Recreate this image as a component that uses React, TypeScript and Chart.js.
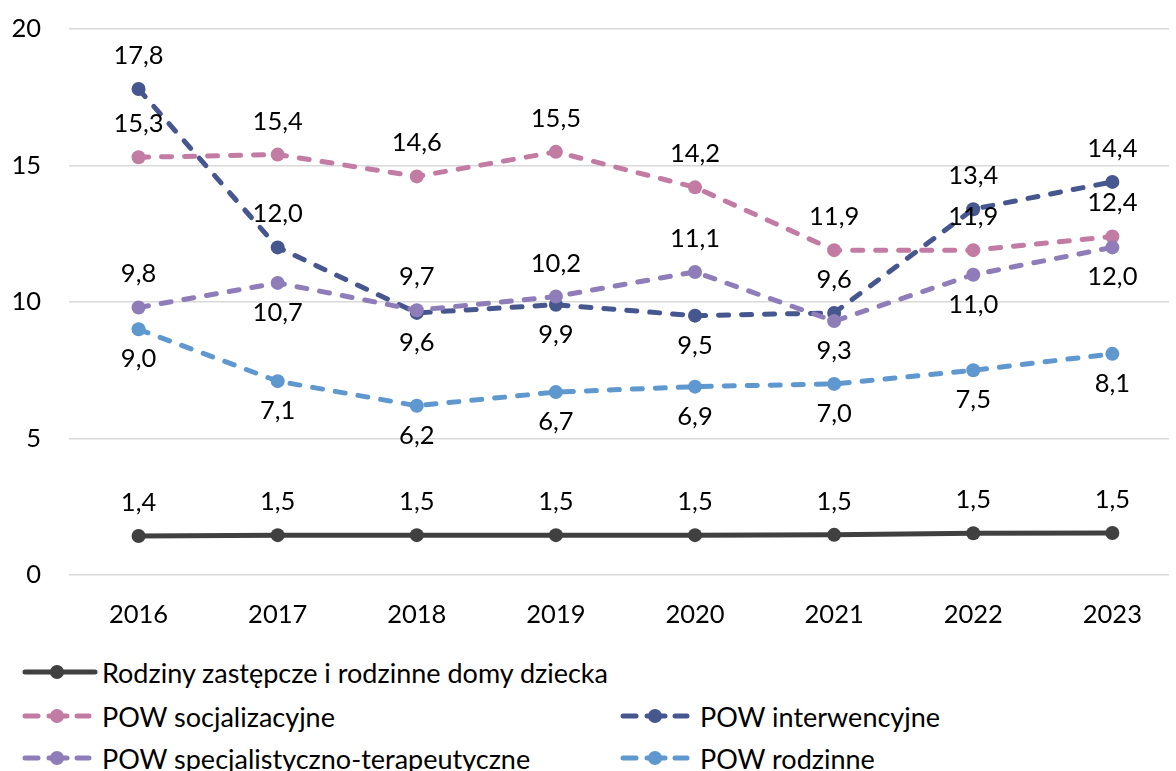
import React, { useEffect, useRef } from 'react';
import { Chart, registerables } from 'chart.js';

Chart.register(...registerables);

// ---- data ----
const years = ['2016', '2017', '2018', '2019', '2020', '2021', '2022', '2023'];
const seriesNames = [
  'Rodziny zastępcze i rodzinne domy dziecka',
  'POW socjalizacyjne',
  'POW interwencyjne',
  'POW specjalistyczno-terapeutyczne',
  'POW rodzinne',
];
const rodziny = [1.43, 1.46, 1.46, 1.46, 1.46, 1.47, 1.53, 1.54];
const socjalizacyjne = [15.3, 15.4, 14.6, 15.5, 14.2, 11.9, 11.9, 12.4];
const interwencyjne = [17.8, 12.0, 9.6, 9.9, 9.5, 9.6, 13.4, 14.4];
const specjalistyczne = [9.8, 10.7, 9.7, 10.2, 11.1, 9.3, 11.0, 12.0];
const rodzinne = [9.0, 7.1, 6.2, 6.7, 6.9, 7.0, 7.5, 8.1];
const yTicks = [0, 5, 10, 15, 20];

// label placement (a = above, b = below)
const posRodziny = ['a', 'a', 'a', 'a', 'a', 'a', 'a', 'a'];
const posSocjal = ['a', 'a', 'a', 'a', 'a', 'a', 'a', 'a'];
const posInterw = ['a', 'a', 'b', 'b', 'b', 'a', 'a', 'a'];
const posSpecj = ['a', 'b', 'a', 'a', 'a', 'b', 'b', 'b'];
const posRodzinne = ['b', 'b', 'b', 'b', 'b', 'b', 'b', 'b'];

const colors = ['#404040', '#C27BA3', '#46568E', '#8E7DB8', '#5F97CF'];
const FONT = 'Lato, "Open Sans", sans-serif';
const FONT_SIZE = 25.5;
const LEGEND_FONT_SIZE = 27;

const labelPlugin = {
  id: 'pointValueLabels',
  afterDatasetsDraw(chart: any) {
    const ctx = chart.ctx;
    ctx.save();
    ctx.font = `${FONT_SIZE}px ${FONT}`;
    ctx.fillStyle = '#000000';
    ctx.textAlign = 'center';
    ctx.textBaseline = 'alphabetic';
    chart.data.datasets.forEach((ds: any, i: number) => {
      const meta = chart.getDatasetMeta(i);
      meta.data.forEach((pt: any, j: number) => {
        const v = ds.data[j].y as number;
        const txt = v.toFixed(1).replace('.', ',');
        const above = ds.labelPos[j] === 'a';
        const y = above ? pt.y - 25 : pt.y + 38;
        ctx.fillText(txt, pt.x, y);
      });
    });
    ctx.restore();
  },
};

const CANVAS_H = 640;
const PLOT_LEFT = 69;
const PLOT_TOP = 29;
const PLOT_BOTTOM = 575;

function LegendSymbol({ color, dashed }: { color: string; dashed: boolean }) {
  return (
    <svg width={76} height={20} style={{ display: 'block' }}>
      {dashed ? (
        <>
          <line x1={3} y1={10} x2={16} y2={10} stroke={color} strokeWidth={5} strokeLinecap="round" />
          <line x1={27} y1={10} x2={45} y2={10} stroke={color} strokeWidth={5} strokeLinecap="round" />
          <line x1={55} y1={10} x2={67} y2={10} stroke={color} strokeWidth={5} strokeLinecap="round" />
          <circle cx={35} cy={10} r={7} fill={color} />
        </>
      ) : (
        <>
          <line x1={3} y1={10} x2={73} y2={10} stroke={color} strokeWidth={5} strokeLinecap="round" />
          <circle cx={35} cy={10} r={7} fill={color} />
        </>
      )}
    </svg>
  );
}

const legendItems = [
  { idx: 0, left: 22, cy: 672, dashed: false },
  { idx: 1, left: 22, cy: 716, dashed: true },
  { idx: 2, left: 620, cy: 716, dashed: true },
  { idx: 3, left: 22, cy: 758, dashed: true },
  { idx: 4, left: 620, cy: 758, dashed: true },
];

const fixAreaPlugin = {
  id: 'fixArea',
  afterLayout(chart: any) {
    // nothing: kept for layout checks
  },
};

export default function App() {
  const ref = useRef<HTMLCanvasElement | null>(null);

  useEffect(() => {
    if (!ref.current) return;
    const all = [rodziny, socjalizacyjne, interwencyjne, specjalistyczne, rodzinne];
    const positions = [posRodziny, posSocjal, posInterw, posSpecj, posRodzinne];
    const datasets = all.map((vals, i) => ({
      label: seriesNames[i],
      data: vals.map((y, x) => ({ x, y })),
      labelPos: positions[i],
      borderColor: colors[i],
      backgroundColor: colors[i],
      pointBackgroundColor: colors[i],
      pointBorderColor: colors[i],
      pointBorderWidth: 0,
      pointRadius: 7,
      pointHoverRadius: 7,
      borderWidth: 5,
      borderCapStyle: 'round',
      borderDash: i === 0 ? [] : [10, 13],
      tension: 0,
      fill: false,
      order: 10 - i,
      clip: false,
    }));

    const pxPerUnit = 140;
    const xMax = -0.5 + (1176 - PLOT_LEFT) / pxPerUnit;

    const chart = new Chart(ref.current, {
      type: 'line',
      data: { datasets } as any,
      plugins: [labelPlugin, fixAreaPlugin],
      options: {
        animation: false,
        responsive: false,
        maintainAspectRatio: false,
        layout: { padding: { top: PLOT_TOP, left: 0, right: 0, bottom: 0 } },
        plugins: {
          legend: { display: false },
          tooltip: { enabled: false },
        },
        scales: {
          x: {
            type: 'linear',
            min: -0.5,
            max: xMax,
            grid: { display: false, drawTicks: false, tickLength: 0 },
            border: { display: false },
            afterFit: (scale: any) => {
              scale.height = CANVAS_H - PLOT_BOTTOM;
              scale.paddingLeft = 0;
              scale.paddingRight = 0;
            },
            afterBuildTicks: (scale: any) => {
              scale.ticks = years.map((_, i) => ({ value: i }));
            },
            ticks: {
              autoSkip: false,
              maxRotation: 0,
              minRotation: 0,
              padding: 24,
              color: '#000000',
              font: { family: FONT, size: FONT_SIZE },
              callback: (v: any) => {
                const n = Number(v);
                return Number.isInteger(n) && n >= 0 && n < years.length ? years[n] : '';
              },
            },
          },
          y: {
            type: 'linear',
            min: 0,
            max: 20,
            afterFit: (scale: any) => {
              scale.width = PLOT_LEFT;
              scale.paddingTop = 0;
              scale.paddingBottom = 0;
            },
            afterBuildTicks: (scale: any) => {
              scale.ticks = yTicks.map((v) => ({ value: v }));
            },
            grid: { color: '#d9d9d9', lineWidth: 1.5, drawTicks: false, tickLength: 0 },
            border: { display: false },
            ticks: {
              padding: 28,
              color: '#000000',
              font: { family: FONT, size: FONT_SIZE },
            },
          },
        },
      } as any,
    });
    return () => chart.destroy();
  }, []);

  return (
    <div style={{ position: 'relative', width: 1176, height: 771, overflow: 'hidden', background: '#fff' }}>
      <style>{'body{margin:0;}'}</style>
      <canvas ref={ref} width={1176} height={CANVAS_H} style={{ position: 'absolute', left: 0, top: 0, width: 1176, height: CANVAS_H }} />
      {legendItems.map((it) => (
        <div
          key={it.idx}
          style={{
            position: 'absolute',
            left: it.left,
            top: it.cy - 18,
            height: 36,
            display: 'flex',
            alignItems: 'center',
            fontFamily: FONT,
            fontSize: LEGEND_FONT_SIZE,
            color: '#000',
            whiteSpace: 'nowrap',
          }}
        >
          <LegendSymbol color={colors[it.idx]} dashed={it.dashed} />
          <span style={{ marginLeft: 4 }}>{seriesNames[it.idx]}</span>
        </div>
      ))}
    </div>
  );
}
